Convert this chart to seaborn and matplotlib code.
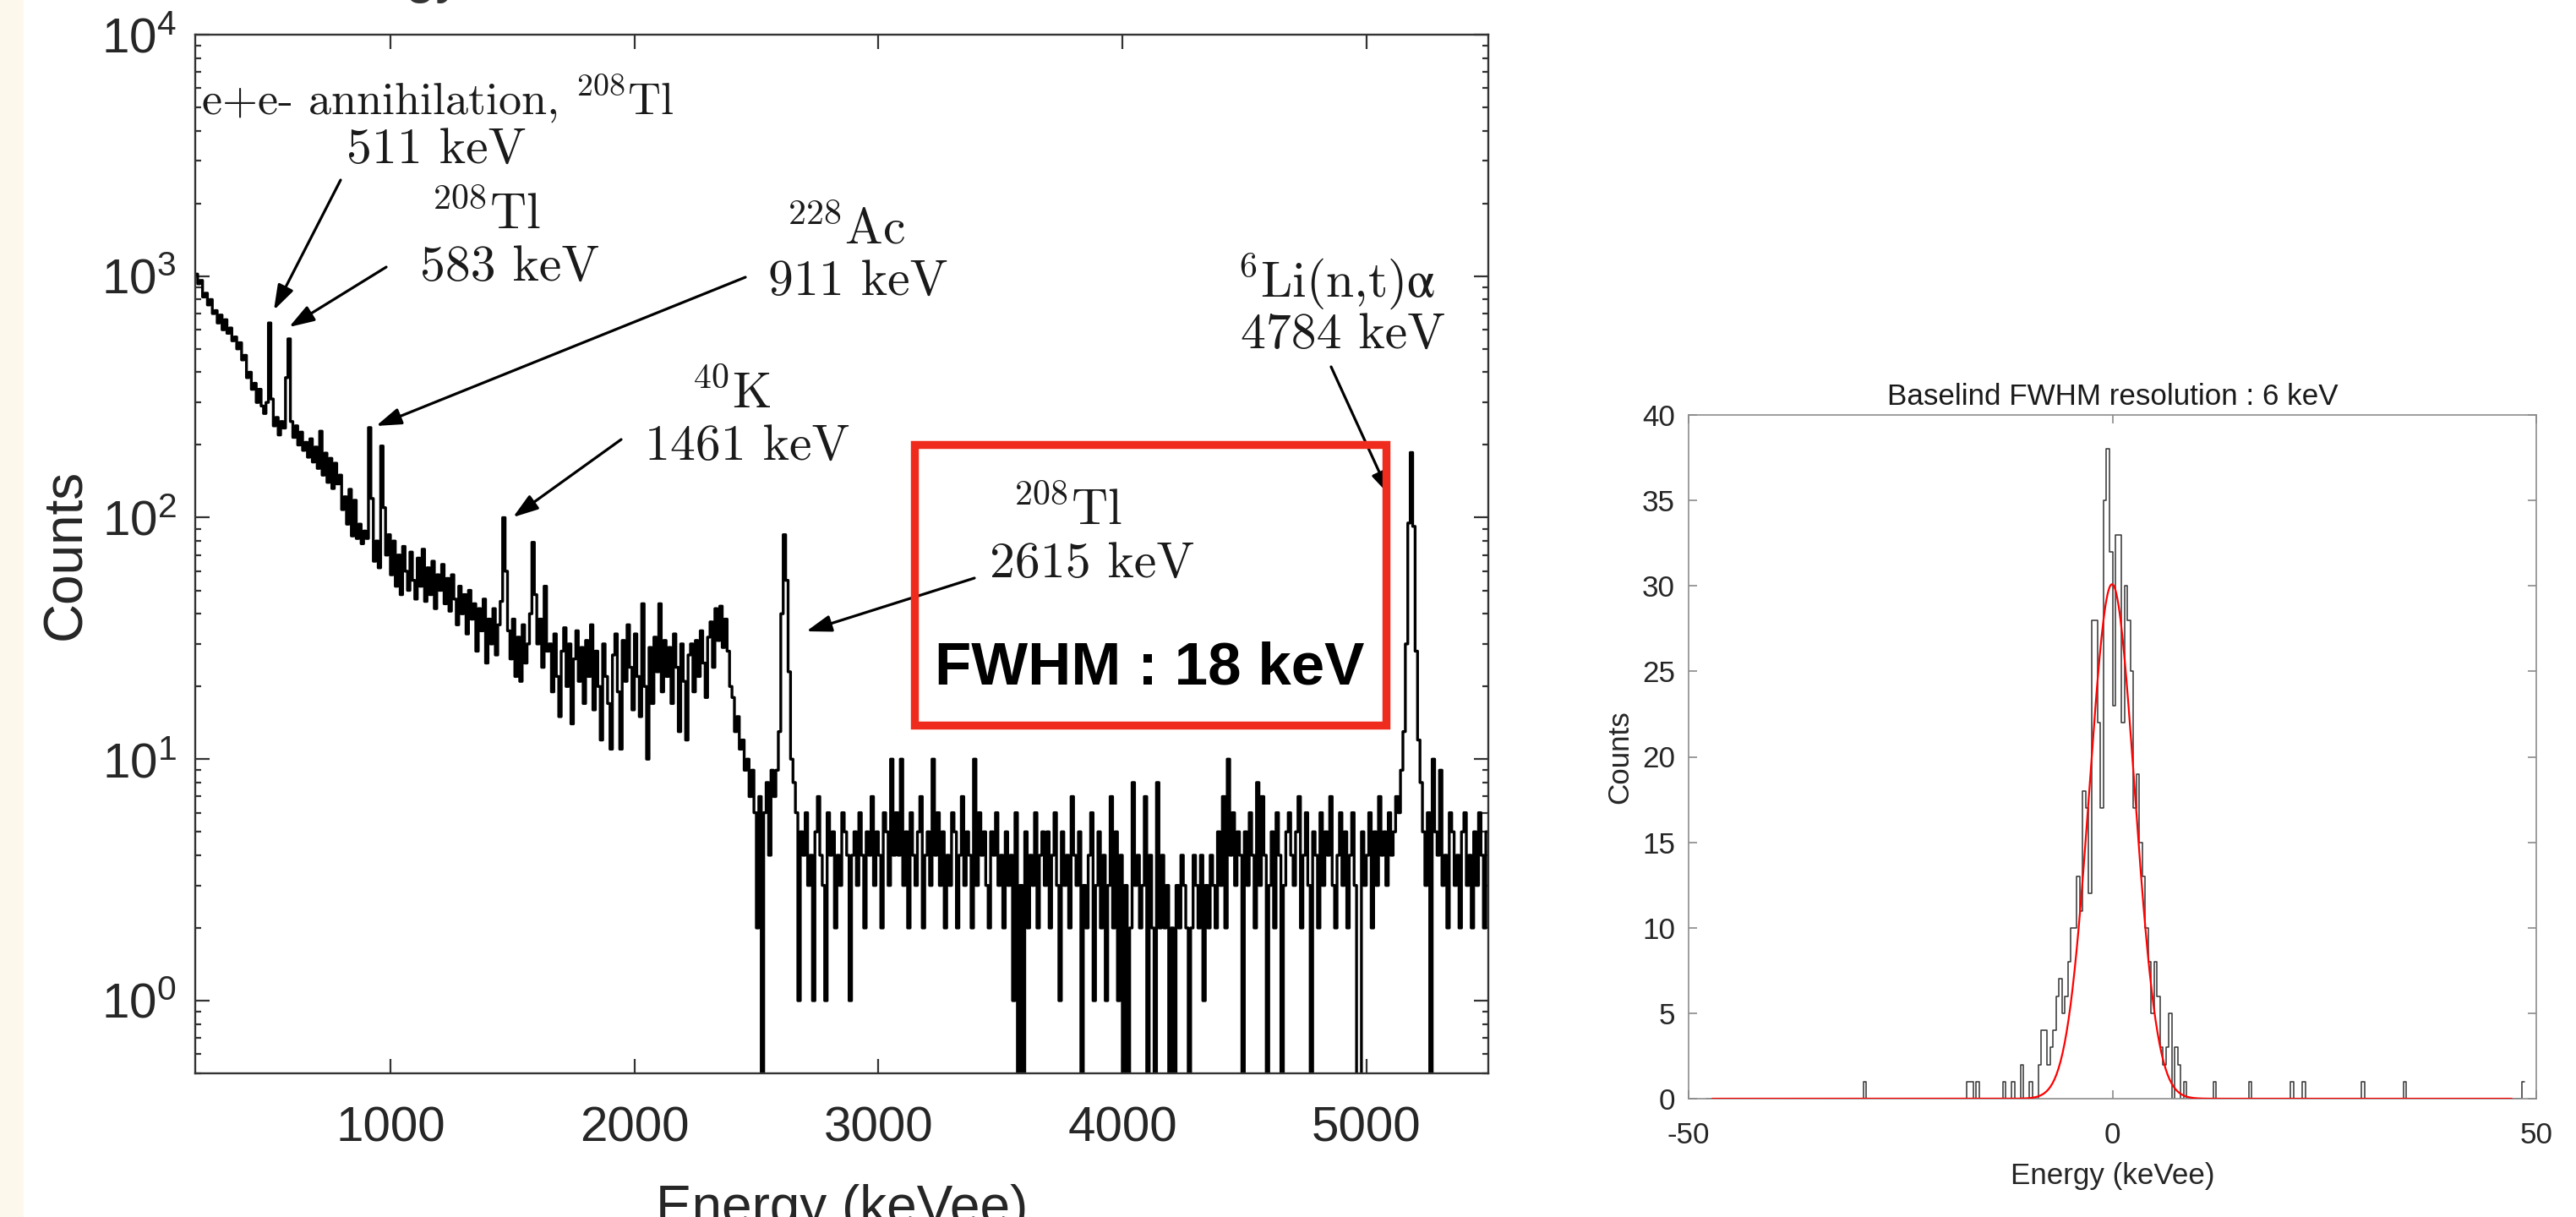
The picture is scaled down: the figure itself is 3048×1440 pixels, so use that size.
import numpy as np
import pandas as pd
import seaborn as sns
import matplotlib.pyplot as plt
from matplotlib.patches import Rectangle
from matplotlib.ticker import NullLocator, NullFormatter, LogLocator

# ---------------- gamma spectrum, 10 keV bins from 200 to 5500 keVee (counts)
spec_200_490 = [1020, 930, 960, 820, 850, 760, 800, 700, 720, 640, 690, 600, 660, 580, 610,
                540, 560, 500, 530, 450, 470, 380, 400, 340, 360, 300, 340, 290, 270, 300]
spec_500_640 = [640, 310, 240, 260, 220, 250, 235, 380, 550, 250, 215, 240, 200, 226, 190]
spec_650_890 = [205, 178, 212, 170, 196, 160, 228, 150, 185, 140, 176, 132, 168, 138, 150,
                108, 122, 94, 131, 84, 118, 82, 94, 78, 88]
spec_900_990 = [82, 236, 120, 66, 80, 62, 198, 110, 70, 85]
spec_1000_1440 = [58, 80, 52, 70, 48, 76, 60, 50, 72, 55,
                  46, 68, 52, 74, 45, 62, 48, 66, 42, 58,
                  50, 64, 44, 56, 41, 58, 46, 36, 52, 40,
                  48, 33, 50, 38, 44, 28, 42, 34, 46, 25,
                  38, 30, 42, 27, 36]
spec_1450_1640 = [45, 100, 60, 34, 26, 38, 22, 32, 21, 36, 25, 30, 40, 79, 48, 30, 38, 24, 52, 28]
spec_1650_2370 = [30, 19, 33, 22, 15, 28, 35, 20, 30, 14,
                  26, 34, 21, 29, 17, 31, 22, 36, 16, 28,
                  20, 12, 30, 22, 17, 11, 27, 33, 19, 11,
                  31, 21, 36, 24, 16, 33, 22, 15, 44, 20,
                  10, 29, 17, 32, 23, 44, 19, 31, 22, 29,
                  17, 33, 24, 13, 30, 21, 12, 27, 30, 19,
                  31, 22, 34, 25, 18, 32, 37, 24, 42, 31,
                  43, 29, 38]
spec_2380_2670 = [28, 20, 18, 13, 15, 11, 12, 9, 10, 7, 9, 6, 2, 7, 0,
                  6, 8, 4, 9, 7, 9, 13, 40, 85, 55, 23, 10, 8, 6, 1]
spec_2680_5120 = [5, 4, 6, 3, 4, 1, 5, 7, 4, 3, 1, 6, 4, 5, 2, 4, 3, 6, 5, 4,
                  1, 4, 5, 3, 6, 4, 2, 5, 4, 7, 3, 5, 4, 2, 6, 5, 3, 10, 4, 6,
                  4, 10, 3, 5, 2, 6, 4, 3, 5, 7, 2, 4, 5, 3, 10, 4, 6, 3, 5, 2,
                  4, 3, 6, 5, 2, 4, 7, 3, 5, 4, 2, 10, 3, 6, 4, 5, 3, 2, 5, 4,
                  6, 3, 4, 2, 5, 3, 4, 1, 6, 0, 3, 0, 5, 2, 4, 3, 6, 2, 4, 5,
                  3, 5, 2, 4, 6, 3, 1, 5, 3, 4, 2, 7, 4, 3, 5, 0, 3, 2, 4, 6,
                  1, 3, 5, 2, 4, 1, 3, 7, 2, 5, 1, 4, 0, 3, 0, 2, 8, 3, 4, 2,
                  3, 7, 0, 4, 2, 0, 8, 2, 4, 2, 3, 0, 2, 0, 3, 2, 4, 3, 2, 0,
                  2, 4, 3, 2, 4, 1, 3, 2, 4, 3, 2, 5, 3, 7, 2, 10, 4, 6, 3, 5,
                  4, 0, 5, 3, 6, 4, 2, 8, 3, 7, 4, 0, 3, 5, 2, 6, 4, 0, 3, 5,
                  6, 4, 3, 5, 7, 2, 4, 6, 3, 0, 5, 4, 2, 6, 3, 5, 4, 7, 3, 2,
                  4, 6, 3, 5, 2, 4, 6, 3, 0, 0, 5, 3, 4, 6, 2, 5, 3, 7, 4, 5,
                  3, 6, 4, 5, 7]
spec_5130_5220 = [6, 9, 13, 30, 95, 186, 92, 28, 12, 8]
spec_5230_5490 = [5, 3, 6, 0, 10, 5, 4, 9, 3, 4, 2, 6, 5, 3, 4, 2, 5, 6, 3, 4, 2, 5, 3, 6, 4, 2, 5]

spec_counts = np.array(spec_200_490 + spec_500_640 + spec_650_890 + spec_900_990 + spec_1000_1440
                       + spec_1450_1640 + spec_1650_2370 + spec_2380_2670 + spec_2680_5120
                       + spec_5130_5220 + spec_5230_5490, dtype=float)
spec_edges = np.arange(200, 5510, 10)
assert len(spec_counts) == len(spec_edges) - 1

# ---------------- baseline histogram, 0.35 keV bins (counts)
base_core_start = -12.25
base_core_counts = [0, 1, 0, 0, 2, 0, 0, 1, 0, 0, 2, 4, 4, 2, 3, 4, 6, 7, 5, 6,
                    8, 10, 10, 13, 11, 18, 17, 12, 28, 28, 22, 17, 35, 38, 32, 23, 33, 33, 22, 30,
                    28, 25, 17, 19, 15, 13, 10, 8, 5, 8, 6, 3, 2, 3, 5, 0, 3, 2, 0, 1]
base_outliers = [-29.1, -17.1, -16.6, -15.9, -12.9, 12.2, 16.3, 21.1, 22.4, 29.5, 34.4, 48.5]
base_binwidth = 0.35
base_edges = np.round(np.arange(-137, 140) * base_binwidth, 4)

# gaussian fit shown in red (parameters)
fit_amp = 30.1
fit_mu = -0.05
fit_sigma = 2.65
fit_range = (-47.2, 47.1)

# ---------------- style
sns.set_theme(style="ticks")
plt.rcParams["font.family"] = ["Liberation Sans", "DejaVu Sans"]
plt.rcParams["mathtext.fontset"] = "custom"
plt.rcParams["mathtext.rm"] = "Liberation Sans"
plt.rcParams["mathtext.it"] = "Liberation Sans:italic"
plt.rcParams["mathtext.bf"] = "Liberation Sans:bold"
plt.rcParams["mathtext.default"] = "regular"
plt.rcParams["axes.unicode_minus"] = False

W, H = 3048, 1440
fig = plt.figure(figsize=(W / 200, H / 200), dpi=200, facecolor="white")

# cream strip on the left edge
fig.add_artist(Rectangle((0, 0), 28 / W, 1, transform=fig.transFigure,
                         facecolor="#FDF8EC", edgecolor="none"))

# cut-off title at the very top (only the descenders show)
fig.text(548 / W, (H + 9) / H, "Energy", ha="right", va="baseline", fontsize=23, color="#333333")

ax1 = fig.add_axes([231 / W, (H - 1270) / H, 1530 / W, 1229 / H])
ax2 = fig.add_axes([1998 / W, (H - 1300) / H, 1003 / W, 809 / H])

# ---------------- left: energy spectrum
# log axis cannot show empty bins, so draw them below the lower limit
spec_df = pd.DataFrame({"energy": spec_edges[:-1] + 5,
                        "counts": np.where(spec_counts == 0, 0.1, spec_counts)})
sns.histplot(data=spec_df, x="energy", weights="counts", bins=spec_edges.tolist(), element="step",
             fill=False, color="black", linewidth=1.2, ax=ax1)
ax1.set_yscale("log")
ax1.set_xlim(200, 5500)
ax1.set_ylim(0.5, 1e4)
ax1.set_xticks([1000, 2000, 3000, 4000, 5000])
ax1.xaxis.set_minor_locator(NullLocator())
ax1.set_yticks([1, 10, 100, 1000, 10000],
               labels=[r"$10^{0}$", r"$10^{1}$", r"$10^{2}$", r"$10^{3}$", r"$10^{4}$"])
ax1.yaxis.set_minor_locator(LogLocator(base=10, subs=np.arange(2, 10)))
ax1.yaxis.set_minor_formatter(NullFormatter())
ax1.tick_params(which="both", direction="in", top=True, right=True, color="#333333",
                labelcolor="#262626", width=0.8)
ax1.tick_params(which="major", length=6, labelsize=21)
ax1.tick_params(which="minor", length=2.6)
ax1.tick_params(axis="x", pad=13.7)
ax1.tick_params(axis="y", pad=8)
for sp in ax1.spines.values():
    sp.set_color("#333333")
    sp.set_linewidth(0.85)
ax1.set_xlabel("Energy (keVee)", fontsize=23, color="#262626")
ax1.set_ylabel("Counts", fontsize=23, color="#262626")
ax1.xaxis.set_label_coords(0.5, -0.1066)
ax1.yaxis.set_label_coords(-0.0804, 0.5)

# ---------------- right: baseline resolution
core_centers = base_core_start + base_binwidth * (np.arange(len(base_core_counts)) + 0.5)
base_df = pd.DataFrame({
    "energy": np.concatenate([core_centers, base_outliers]),
    "counts": np.concatenate([base_core_counts, np.ones(len(base_outliers))]),
})
sns.histplot(data=base_df, x="energy", weights="counts", bins=base_edges.tolist(), element="step",
             fill=False, color="#333333", linewidth=0.55, ax=ax2)
fit_x = np.linspace(fit_range[0], fit_range[1], 800)
fit_y = fit_amp * np.exp(-0.5 * ((fit_x - fit_mu) / fit_sigma) ** 2)
sns.lineplot(x=fit_x, y=fit_y, color="red", linewidth=0.8, ax=ax2, zorder=3)
ax2.set_xlim(-50, 50)
ax2.set_ylim(0, 40)
ax2.set_xticks([-50, 0, 50])
ax2.set_yticks(range(0, 41, 5))
ax2.tick_params(which="both", direction="in", top=True, right=True, color="#808080",
                labelcolor="#262626", width=0.55, length=3.6, labelsize=12.6)
ax2.tick_params(axis="x", pad=9.7)
ax2.tick_params(axis="y", pad=5.8)
for sp in ax2.spines.values():
    sp.set_color("#8c8c8c")
    sp.set_linewidth(0.6)
ax2.set_title("Baselind FWHM resolution : 6 keV", fontsize=12.6, pad=4.3, color="#1a1a1a")
ax2.set_xlabel("Energy (keVee)", fontsize=12.6, color="#262626")
ax2.set_ylabel("Counts", fontsize=12.6, color="#262626")
ax2.xaxis.set_label_coords(0.5, -0.0927)
ax2.yaxis.set_label_coords(-0.0648, 0.5)


# ---------------- annotations (positions in image pixels, measured from the top)
def fpos(x, y):
    return (x / W, 1 - y / H)


cm_kw = dict(family="cmr10", math_fontfamily="cm", color="#1a1a1a")
labels = [
    ("e+e- annihilation, $^{208}$Tl", 238, 117, "left", 19.5),
    ("511 keV", 516, 178, "center", 21.5),
    ("$^{208}$Tl", 575, 254, "center", 21.5),
    ("583 keV", 603, 317, "center", 21.5),
    ("$^{228}$Ac", 1000, 272, "center", 21.5),
    ("911 keV", 1015, 334, "center", 21.5),
    ("$^{40}$K", 865, 466, "center", 21.5),
    ("1461 keV", 884, 529, "center", 21.5),
    ("$^{6}$Li(n,t)$\\alpha$", 1581, 333, "center", 21.5),
    ("4784 keV", 1589, 397, "center", 21.5),
    ("$^{208}$Tl", 1263, 604, "center", 21.5),
    ("2615 keV", 1292, 668, "center", 21.5),
]
for text, x, y, ha, fs in labels:
    fig.text(*fpos(x, y), text, ha=ha, va="center", fontsize=fs, **cm_kw)

arrows = [
    ((403, 213), (324, 367)),
    ((457, 316), (342, 387)),
    ((882, 328), (445, 504)),
    ((735, 520), (607, 612)),
    ((1153, 684), (954, 747)),
    ((1575, 434), (1645, 587)),
]
for (x0, y0), (x1, y1) in arrows:
    ax1.annotate("", xy=(x1, H - y1), xytext=(x0, H - y0),
                 xycoords="figure pixels", textcoords="figure pixels",
                 arrowprops=dict(arrowstyle="-|>,head_length=0.45,head_width=0.15",
                                 mutation_scale=20, color="black", lw=1.15,
                                 shrinkA=0, shrinkB=0))

# red highlight box
fig.add_artist(Rectangle((1082 / W, 1 - 858 / H), (1640 - 1082) / W, (858 - 526) / H,
                         transform=fig.transFigure, fill=False, edgecolor="#EE2B1C",
                         linewidth=3.4))
fig.text(*fpos(1360, 791), "FWHM : 18 keV", ha="center", va="center", fontsize=25.5,
         fontweight="bold", color="black")

fig.savefig("out.png", dpi=200, facecolor="white")
